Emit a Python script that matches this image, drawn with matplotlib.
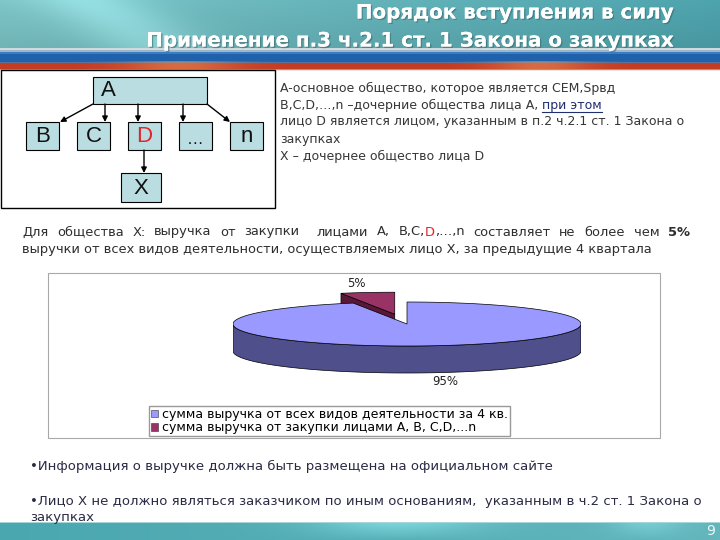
import numpy as np
import matplotlib
matplotlib.use("Agg")
import matplotlib.pyplot as plt
from matplotlib.patches import Rectangle, Polygon, Patch
import matplotlib.patheffects as pe

plt.rcParams['font.family'] = ['DejaVu Sans', 'Liberation Sans']

# ---- data ----
title_lines = ["Порядок вступления в силу",
               "Применение п.3 ч.2.1 ст. 1 Закона о закупках"]
parent_node = "A"
child_nodes = ["B", "C", "D", "…", "n"]
grandchild_node = "X"
notes_right = ["A-основное общество, которое является СЕМ,Spвд",
               "B,C,D,…,n –дочерние общества лица A, ",
               "лицо D является лицом, указанным в п.2 ч.2.1 ст. 1 Закона о",
               "закупках",
               "X – дочернее общество лица D"]
pie_values = [95, 5]
pie_labels = ["95%", "5%"]
pie_explode = [0.0, 0.45]
legend_labels = ["сумма выручка от всех видов деятельности за 4 кв.",
                 "сумма выручка от закупки лицами A, B, C,D,...n"]
top_colors = ["#9999ff", "#993366"]
side_colors = ["#4f4f8c", "#5a1838"]
bullets = ["•Информация о выручке должна быть размещена на официальном сайте",
           "•Лицо X не должно являться заказчиком по иным основаниям,  указанным в ч.2 ст. 1 Закона о",
           "закупках"]

W, H = 720, 540
fig = plt.figure(figsize=(7.2, 5.4), dpi=100)
ax = fig.add_axes([0, 0, 1, 1])


def hexrgb(h):
    h = h.lstrip('#')
    return np.array([int(h[i:i + 2], 16) / 255 for i in (0, 2, 4)])


# ---- header band ----
xs = np.linspace(0, 1, W)
hdr = np.zeros((48, W, 3))
left, right = hexrgb("#7cc4c6"), hexrgb("#4ea4ae")
for i in range(48):
    v = i / 47
    row = left[None, :] * (1 - xs[:, None]) + right[None, :] * xs[:, None]
    glow = 0.12 * np.exp(-((xs - 0.12 - 0.1 * v) / 0.08) ** 2)
    hdr[i] = np.clip(row * (1 - 0.08 * v) + glow[:, None], 0, 1)
ax.imshow(hdr, extent=(0, W, 48, 0), aspect='auto', zorder=0)

# blue / red stripe
stripe_rows = [("#cfdadd", 2), ("#9db8cc", 2), ("#3b7dc0", 2), ("#1f62ab", 8),
               ("#5a6f9a", 1), ("#c43c22", 6), ("#d9826a", 1), ("#f2e4df", 1)]
rows = []
for c, n in stripe_rows:
    rows += [hexrgb(c)] * n
st = np.zeros((len(rows), W, 3))
glow = np.exp(-((xs - 0.25) / 0.08) ** 2) + np.exp(-((xs - 0.75) / 0.07) ** 2)
for i, c in enumerate(rows):
    st[i] = c[None, :]
    if 13 <= i < 21:
        st[i] = st[i] * (1 - 0.5 * glow[:, None]) + hexrgb("#eb9a62")[None, :] * 0.5 * glow[:, None]
ax.imshow(st, extent=(0, W, 48 + len(rows), 48), aspect='auto', zorder=0)

# bottom band
bot = np.zeros((18, W, 3))
for i in range(18):
    row = hexrgb("#4aa7b0")[None, :] * (1 - xs[:, None]) + hexrgb("#62b6bc")[None, :] * xs[:, None]
    g = 0.15 * np.exp(-((xs - 0.55) / 0.12) ** 2) + 0.1 * np.exp(-((xs - 0.9) / 0.05) ** 2)
    bot[i] = np.clip(row + g[:, None] * (1 - i / 18), 0, 1)
bot[0] = hexrgb("#a6d6d8")
ax.imshow(bot, extent=(0, W, 540, 522), aspect='auto', zorder=0)

ax.set_xlim(0, W)
ax.set_ylim(H, 0)
ax.axis('off')

# title
for y, t in zip([13, 41], title_lines):
    ax.text(674, y, t, ha='right', va='center', fontsize=14.3, color='white',
            fontweight='bold',
            path_effects=[pe.withSimplePatchShadow(offset=(1, -1), shadow_rgbFace='#3a6a70', alpha=0.6),
                          pe.Normal()])

# ---- organisation diagram ----
ax.add_patch(Rectangle((1, 70), 274, 138, fill=False, ec='black', lw=1))
box_fc = "#b9dde0"
dfont = 'Liberation Sans'
ax.add_patch(Rectangle((93, 77), 114, 27, fc=box_fc, ec='black', lw=0.8))
ax.text(108, 91, parent_node, fontsize=16, ha='center', va='center', color='#111', family=dfont)
child_x = [26 + 51 * i for i in range(len(child_nodes))]
for cx, name in zip(child_x, child_nodes):
    ax.add_patch(Rectangle((cx, 122), 33, 28, fc=box_fc, ec='black', lw=0.8))
    col = '#e0252b' if name == 'D' else '#111'
    fs = 12 if name == '…' else 16
    ax.text(cx + 16.5, 137 if name != '…' else 139, name, fontsize=fs, ha='center', va='center',
            color=col, family=dfont)
ax.add_patch(Rectangle((121, 173), 40, 29, fc=box_fc, ec='black', lw=0.8))
ax.text(141, 188, grandchild_node, fontsize=16, ha='center', va='center', color='#111', family=dfont)

arrows = [((93, 104), (60, 122)), ((105, 104), (105, 122)), ((138, 104), (138, 122)),
          ((183, 104), (183, 122)), ((207, 104), (230, 122)), ((144, 150), (144, 173))]
for s, e in arrows:
    ax.annotate('', xy=e, xytext=s,
                arrowprops=dict(arrowstyle='-|>', color='black', lw=1, mutation_scale=8,
                                shrinkA=0, shrinkB=0))

fig.canvas.draw()
rend = fig.canvas.get_renderer()

# right notes
txt_col = '#363636'
nfs = 9.0
for i, t in enumerate(notes_right):
    y = 88 + 17 * i
    tt = ax.text(280, y, t, fontsize=nfs, color=txt_col, ha='left', va='center')
    if i == 1:
        wpx = tt.get_window_extent(rend).width
        u = ax.text(280 + wpx, y, "при этом", fontsize=nfs, color='#1f2f6f', ha='left', va='center')
        uw = u.get_window_extent(rend).width
        ax.plot([280 + wpx, 280 + wpx + uw], [y + 7, y + 7], color='#1f2f6f', lw=0.8)


# middle statement, first line justified
def draw_words(words, x0, y, target=None, fs=10):
    placed = []
    widths = []
    for word in words:
        segs = []
        for s, kw in word:
            t = ax.text(0, y, s, fontsize=fs, ha='left', va='center', **kw)
            segs.append((t, t.get_window_extent(rend).width))
        placed.append(segs)
        widths.append(sum(w for _, w in segs))
    gap = (target - sum(widths)) / (len(words) - 1)
    x = x0
    for segs, w in zip(placed, widths):
        xx = x
        for t, sw in segs:
            t.set_x(xx)
            xx += sw
        x += w + gap


mc = '#2e2e2e'
mfs = 9.4
plain = dict(color=mc)
line1 = [[(w, plain)] for w in ["Для", "общества", "X:", "выручка", "от", "закупки", "", "лицами", "A,"]]
line1.append([("B,C,", plain), ("D", dict(color='#e0252b')), (",…,n", plain)])
line1 += [[(w, plain)] for w in ["составляет", "не", "более", "чем"]]
line1.append([("5%", dict(color=mc, fontweight='bold'))])
draw_words(line1, 22, 232, target=668, fs=mfs)
ax.text(22, 250, "выручки от всех видов деятельности, осуществляемых лицо X, за предыдущие 4 квартала",
        fontsize=mfs, color=mc, ha='left', va='center')

# ---- 3D pie ----
ax.add_patch(Rectangle((48, 273), 612, 165, fill=False, ec='#a8a8a8', lw=0.8))
pax = fig.add_axes([233 / W, 1 - 390 / H, (581 - 233) / W, (390 - 275) / H])
yc = (324 - 275) / 22
pax.set_xlim(-1, 1)
pax.set_ylim(yc - 115 / 22, yc)
pax.axis('off')
depth = 27 / 22

fr = np.array(pie_values, float) / sum(pie_values)
spans = []
start = 90.0
for f in fr:
    end = start - 360 * f
    spans.append((end, start))
    start = end


def arc(t1, t2, n=200):
    t = np.radians(np.linspace(t1, t2, n))
    return np.column_stack([np.cos(t), np.sin(t)])


order = sorted(range(len(fr)), key=lambda k: -np.sin(np.radians(sum(spans[k]) / 2)))
for k in order:
    t1, t2 = spans[k]
    mid = np.radians((t1 + t2) / 2)
    off = pie_explode[k] * np.array([np.cos(mid), np.sin(mid)])
    kw = dict(ec='black', lw=0.5)
    # radial cut faces
    for ang, vis in [(t2, np.cos(np.radians(t2)) < -1e-6), (t1, np.cos(np.radians(t1)) > 1e-6)]:
        if vis:
            p = np.array([np.cos(np.radians(ang)), np.sin(np.radians(ang))])
            quad = np.array([[0, 0], p, p - [0, depth], [0, -depth]]) + off
            pax.add_patch(Polygon(quad, fc=side_colors[k], **kw))
    # outer side (front half only)
    pts = arc(t1, t2, 400)
    front = pts[pts[:, 1] <= 0]
    if len(front) > 1:
        side = np.vstack([front, (front - [0, depth])[::-1]]) + off
        pax.add_patch(Polygon(side, fc=side_colors[k], **kw))
    top = np.vstack([[0, 0], arc(t1, t2, 400)]) + off
    pax.add_patch(Polygon(top, fc=top_colors[k], **kw))
    lp = off + 1.4 * np.array([np.cos(mid), np.sin(mid)])
    if np.sin(mid) < 0:
        lp[1] -= depth
    pax.text(lp[0], lp[1], pie_labels[k], ha='center', va='center', fontsize=8.5, color='#222')

handles = [Patch(fc=c, ec='#333', lw=0.4) for c in top_colors]
pax.legend(handles, legend_labels, loc='upper left', bbox_to_anchor=(149 / W, 1 - 406 / H),
           bbox_transform=fig.transFigure, frameon=True, fancybox=False, edgecolor='#999',
           framealpha=1, prop=dict(size=9), handlelength=0.6,
           handleheight=0.6, handletextpad=0.3, borderpad=0.15, labelspacing=0.05,
           borderaxespad=0)

# ---- bottom bullets ----
bc = '#2a2a44'
for y, t in zip([466, 502, 518], bullets):
    ax.text(30, y, t, fontsize=9.5, color=bc, ha='left', va='center')
ax.text(711, 531, "9", fontsize=10, color='#eef6f6', ha='center', va='center')

fig.savefig("out.png", dpi=100)
